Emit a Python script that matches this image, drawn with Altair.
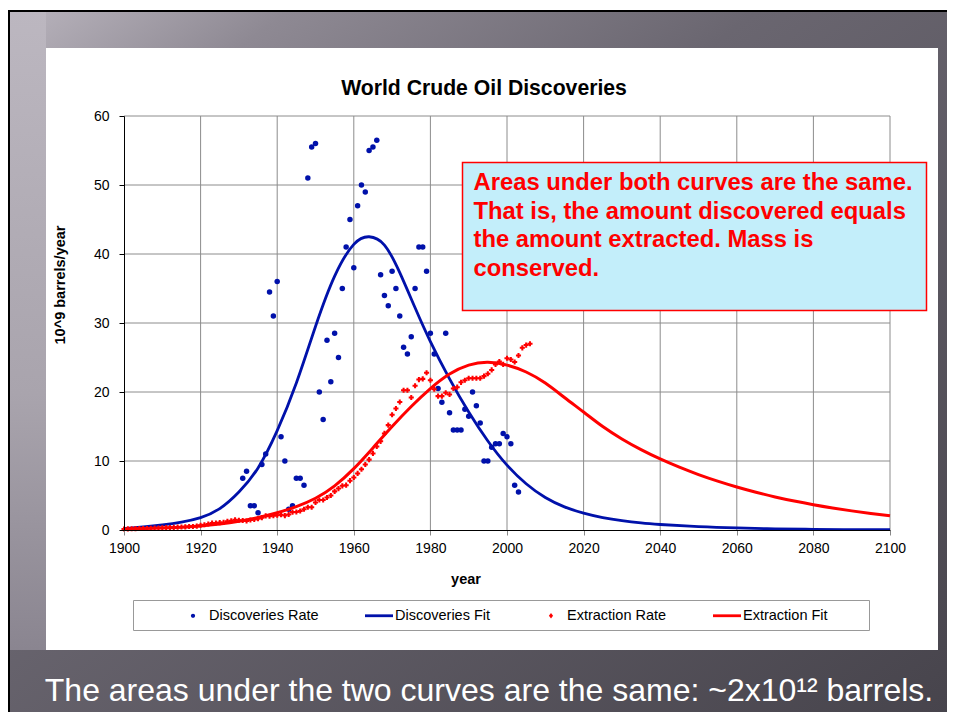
import altair as alt
import pandas as pd

FONT = "Liberation Sans"

# ---------------- data ----------------
disc_years = list(range(1931, 2004))
disc_rate = [7.5, 8.5, 3.5, 3.5, 2.5, 9.5, 11, 34.5, 31, 36,
             13.5, 10, 3, 3.5, 7.5, 7.5, 6.5, 51, 55.5, 56,
             20, 16, 27.5, 21.5, 28.5, 25, 35, 41, 45, 38,
             47, 50, 49, 55, 55.5, 56.5, 37, 34, 32.5, 37.5,
             35, 31, 26.5, 25.5, 28, 35, 41, 41, 37.5,
             28.5, 25.5, 20.5, 18.5, 28.5, 17, 14.5, 14.5, 14.5, 17.5,
             16.5, 20, 18, 15.5, 10, 10, 12, 12.5, 12.5, 14,
             13.5, 12.5, 6.5, 5.5]

ext_years = list(range(1900, 2007))
ext_rate = [0.15, 0.17, 0.18, 0.2, 0.22, 0.22, 0.21, 0.26, 0.29, 0.3,
            0.33, 0.34, 0.35, 0.38, 0.41, 0.43, 0.46, 0.5, 0.5, 0.56,
            0.69, 0.77, 0.86, 1.0, 1.01, 1.07, 1.1, 1.26, 1.32, 1.49,
            1.41, 1.37, 1.31, 1.44, 1.52, 1.65, 1.79, 2.04, 1.99, 2.08,
            2.15, 2.22, 2.09, 2.26, 2.59, 2.6, 2.75, 3.0, 3.3, 3.3,
            4.0, 4.35, 4.35, 4.7, 5.0, 5.6, 6.0, 6.4, 6.5, 7.15,
            7.6, 8.2, 8.8, 9.5, 10.2, 11.1, 12.1, 12.85, 14.0, 15.2,
            16.7, 17.6, 18.55, 20.25, 20.25, 19.2, 20.9, 21.8, 21.9, 22.8,
            21.7, 20.4, 19.4, 19.4, 19.9, 19.65, 20.5, 20.7, 21.4, 21.7,
            22.0, 22.0, 22.0, 22.0, 22.3, 22.65, 23.2, 24.0, 24.4, 24.0,
            24.9, 24.7, 24.35, 25.3, 26.4, 26.8, 27.0]

disc_fit_years = [1900, 1905, 1910, 1915, 1920, 1925, 1930, 1935, 1940, 1945,
                  1950, 1955, 1960, 1964, 1968, 1972, 1976, 1980, 1985, 1990,
                  1995, 2000, 2005, 2010, 2015, 2020, 2025, 2030, 2035, 2040,
                  2050, 2060, 2070, 2080, 2090, 2100]
disc_fit = [0.2, 0.45, 0.75, 1.15, 1.8, 3.1, 5.5, 9.0, 14.4, 21.3,
            29.5, 36.8, 41.4, 42.5, 41.3, 37.3, 32.2, 27.3, 21.9, 17.1,
            12.9, 9.4, 6.7, 4.7, 3.35, 2.45, 1.8, 1.35, 1.02, 0.8,
            0.5, 0.3, 0.17, 0.1, 0.06, 0.04]

ext_fit_years = [1900, 1905, 1910, 1915, 1920, 1925, 1930, 1935, 1940, 1945,
                 1950, 1955, 1960, 1965, 1970, 1975, 1980, 1985, 1990, 1995,
                 2000, 2005, 2010, 2015, 2020, 2025, 2030, 2035, 2040, 2045,
                 2050, 2055, 2060, 2065, 2070, 2075, 2080, 2085, 2090, 2095, 2100]
ext_fit = [0.15, 0.2, 0.28, 0.4, 0.57, 0.85, 1.25, 1.8, 2.5, 3.4,
           4.6, 6.4, 8.9, 11.9, 15.0, 17.9, 20.5, 22.6, 23.9, 24.3,
           23.9, 22.9, 21.3, 19.2, 17.1, 15.0, 13.2, 11.65, 10.3, 9.1,
           8.03, 7.08, 6.23, 5.47, 4.79, 4.19, 3.66, 3.19, 2.77, 2.4, 2.07]

x_ticks = list(range(1900, 2101, 20))
y_ticks = list(range(0, 61, 10))
series = ["Discoveries Rate", "Discoveries Fit", "Extraction Rate", "Extraction Fit"]
series_colors = ["#0011AA", "#0011AA", "#FF0000", "#FF0000"]

title_text = "World Crude Oil Discoveries"
x_title = "year"
y_title = "10^9 barrels/year"
note_lines = ["Areas under both curves are the same.",
              "That is, the amount discovered equals",
              "the amount extracted. Mass is",
              "conserved."]
caption = "The areas under the two curves are the same: ~2x10\u00b9\u00b2 barrels."

# ---------------- tables ----------------
disc_df = pd.DataFrame({"year": disc_years, "value": disc_rate})
ext_df = pd.DataFrame({"year": ext_years, "value": ext_rate})
dfit_df = pd.DataFrame({"year": disc_fit_years, "value": disc_fit})
efit_df = pd.DataFrame({"year": ext_fit_years, "value": ext_fit})
gx_df = pd.DataFrame({"year": x_ticks[1:]})
gy_df = pd.DataFrame({"value": y_ticks[1:]})
leg_df = pd.DataFrame({"series": series, "year": [1950] * 4, "value": [30] * 4})
one = pd.DataFrame({"a": [0]})

W, H = 766, 414

xs = alt.Scale(domain=[1900, 2100], nice=False, zero=False)
ys = alt.Scale(domain=[0, 60], nice=False)

x_axis = alt.Axis(values=x_ticks, format="d", grid=False, title=None,
                  tickColor="#888888", tickSize=5, domainColor="black",
                  labelFont=FONT, labelFontSize=14, labelColor="black",
                  labelPadding=6, labelFlush=False, labelOverlap=False, zindex=1)
y_axis = alt.Axis(values=y_ticks, grid=False, title=None,
                  tickColor="black", tickSize=5, domainColor="black",
                  labelFont=FONT, labelFontSize=14, labelColor="black",
                  labelPadding=10, labelFlush=False, labelOverlap=False, zindex=1)

X = alt.X("year:Q", scale=xs, axis=x_axis)
Y = alt.Y("value:Q", scale=ys, axis=y_axis)

# legend-only layer (hidden beneath the background)
dot_path = "M0.15,0A0.15,0.15,0,1,1,-0.15,0A0.15,0.15,0,1,1,0.15,0Z"
line_path = "M-1,-0.1H1V0.1H-1Z"
diamond_path = "M0,-0.19L0.15,0L0,0.19L-0.15,0Z"
leg = alt.Legend(title=None, orient="none", legendX=55, legendY=485.5,
                 direction="horizontal", columns=4, columnPadding=46,
                 symbolSize=784, symbolStrokeWidth=0, symbolOpacity=1,
                 labelFont=FONT, labelFontSize=14.5, labelColor="black",
                 labelOffset=2, padding=0, gridAlign="each")
legend_layer = alt.Chart(leg_df).mark_point(filled=True, opacity=1).encode(
    x=X, y=Y,
    color=alt.Color("series:N", scale=alt.Scale(domain=series, range=series_colors), legend=leg, sort=None),
    shape=alt.Shape("series:N", scale=alt.Scale(domain=series, range=[dot_path, line_path, diamond_path, line_path]), legend=leg, sort=None),
)

# slide background
blank = alt.Chart(one).mark_rect(fill="white").encode(
    x=alt.value(-116), x2=alt.value(823), y=alt.value(-108), y2=alt.value(596))
bg = alt.Chart(one).mark_rect(fill=alt.LinearGradient(
    gradient="linear", x1=0, y1=0, x2=1, y2=1,
    stops=[alt.GradientStop(color="#bab5be", offset=0),
           alt.GradientStop(color="#8e8993", offset=0.15),
           alt.GradientStop(color="#6a6670", offset=0.4),
           alt.GradientStop(color="#47444c", offset=1)])).encode(
    x=alt.value(-116), x2=alt.value(823), y=alt.value(-106), y2=alt.value(596))
strip = alt.Chart(one).mark_rect(fill=alt.LinearGradient(
    gradient="linear", x1=0, y1=0, x2=0, y2=1,
    stops=[alt.GradientStop(color="#bcb7c0", offset=0),
           alt.GradientStop(color="#a9a4ad", offset=0.6),
           alt.GradientStop(color="#8a8590", offset=1)])).encode(
    x=alt.value(-116), x2=alt.value(-78), y=alt.value(-106), y2=alt.value(534))
frame_l = alt.Chart(one).mark_rect(fill="black").encode(
    x=alt.value(-116), x2=alt.value(-114), y=alt.value(-106), y2=alt.value(596))
frame_t = alt.Chart(one).mark_rect(fill="black").encode(
    x=alt.value(-116), x2=alt.value(823), y=alt.value(-106), y2=alt.value(-104))
panel = alt.Chart(one).mark_rect(fill="white").encode(
    x=alt.value(-78), x2=alt.value(814), y=alt.value(-68), y2=alt.value(534))

# gridlines through the scales
gridx = alt.Chart(gx_df).mark_rule(color="#8c8c8c", strokeWidth=1).encode(x=X)
gridy = alt.Chart(gy_df).mark_rule(color="#8c8c8c", strokeWidth=1).encode(y=Y)

# data
disc_pts = alt.Chart(disc_df).mark_circle(color="#0011AA", size=30, opacity=1).encode(x=X, y=Y)
disc_line = alt.Chart(dfit_df).mark_line(color="#0011AA", strokeWidth=2.8, interpolate="natural").encode(x=X, y=Y)
ext_pts = alt.Chart(ext_df).mark_point(shape="cross", filled=True, color="#FF0000", size=26, opacity=1).encode(x=X, y=Y)
ext_line = alt.Chart(efit_df).mark_line(color="#FF0000", strokeWidth=3, interpolate="natural").encode(x=X, y=Y)

# annotation box
note_box = alt.Chart(one).mark_rect(fill="#C3EEFA", stroke="#FF0000", strokeWidth=1.5).encode(
    x=alt.value(338.5), x2=alt.value(802.5), y=alt.value(46.5), y2=alt.value(194.5))
note_txt = alt.Chart(one).mark_text(text=note_lines, font=FONT, fontSize=23.8, fontWeight="bold",
                                    color="#FF0000", align="left", baseline="alphabetic",
                                    lineHeight=28.5).encode(x=alt.value(349.5), y=alt.value(74))

# texts
title = alt.Chart(one).mark_text(text=title_text, font=FONT, fontSize=21.2, fontWeight="bold",
                                 color="black", align="center", baseline="alphabetic").encode(
    x=alt.value(360), y=alt.value(-21))
xt = alt.Chart(one).mark_text(text=x_title, font=FONT, fontSize=14.5, fontWeight="bold",
                              color="black", align="center", baseline="middle").encode(
    x=alt.value(342), y=alt.value(464))
yt = alt.Chart(one).mark_text(text=y_title, font=FONT, fontSize=14.5, fontWeight="bold",
                              color="black", align="center", baseline="middle", angle=270).encode(
    x=alt.value(-63), y=alt.value(169))
legend_frame = alt.Chart(one).mark_rect(fill="white", stroke="#999999", strokeWidth=1).encode(
    x=alt.value(9.5), x2=alt.value(745.5), y=alt.value(484.5), y2=alt.value(514.5))
cap = alt.Chart(one).mark_text(text=caption, font=FONT, fontSize=32, color="white",
                               align="center", baseline="alphabetic").encode(
    x=alt.value(365), y=alt.value(585))

chart = alt.layer(
    legend_layer, blank, bg, strip, frame_l, frame_t, panel,
    gridx, gridy, disc_pts, disc_line, ext_pts, ext_line,
    note_box, note_txt, title, xt, yt, legend_frame, cap
).properties(width=W, height=H, padding=0).configure_view(strokeWidth=0).configure(background="white")

chart.save("out.html", embed_options={"renderer": "svg", "actions": False})
